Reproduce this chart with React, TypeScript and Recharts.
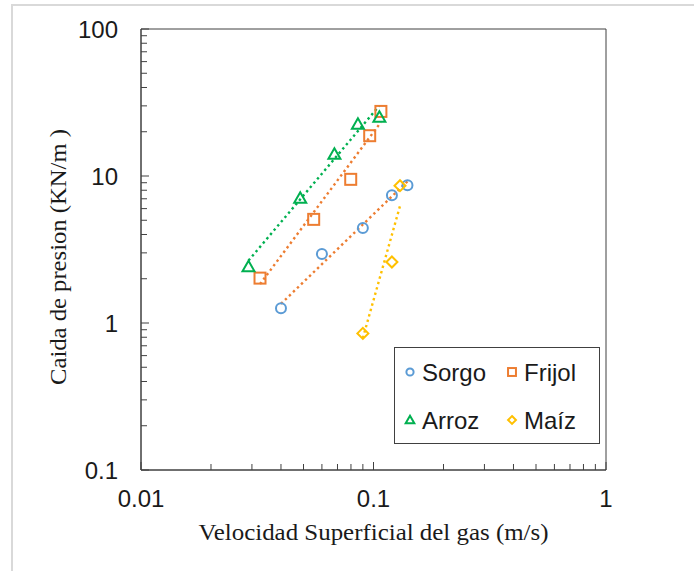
import React from 'react';
import { ScatterChart, Scatter, XAxis, YAxis, ReferenceArea, Legend, Label } from 'recharts';

const SANS = '"Liberation Sans", Arial, sans-serif';
const SERIF = '"Liberation Serif", "Times New Roman", serif';
const AXIS = '#404040';
const TEXT = '#1a1a1a';

const BLUE = '#5B9BD5';
const ORANGE = '#ED7D31';
const GREEN = '#00B050';
const GOLD = '#FFC000';

// measured points
const sorgoX = [0.04, 0.06, 0.09, 0.12, 0.14];
const sorgoY = [1.26, 2.95, 4.43, 7.39, 8.65];
const frijolX = [0.0325, 0.0553, 0.0798, 0.0963, 0.1076];
const frijolY = [2.02, 5.07, 9.49, 18.8, 27.5];
const arrozX = [0.029, 0.0484, 0.0679, 0.0857, 0.106];
const arrozY = [2.41, 7.05, 14.05, 22.5, 25.1];
const maizX = [0.09, 0.12, 0.13];
const maizY = [0.85, 2.6, 8.59];

// trendline end points
const sorgoTrendX = [0.04, 0.14];
const sorgoTrendY = [1.35, 9.2];
const frijolTrendX = [0.0325, 0.1076];
const frijolTrendY = [1.84, 23.2];
const arrozTrendX = [0.029, 0.106];
const arrozTrendY = [2.66, 30.1];
const maizTrendX = [0.09, 0.13];
const maizTrendY = [0.79, 6.25];

// axis ticks
const xTicks = [0.01, 0.02, 0.03, 0.04, 0.05, 0.06, 0.07, 0.08, 0.09, 0.1, 0.2, 0.3, 0.4, 0.5, 0.6, 0.7, 0.8, 0.9, 1];
const xMajor = [0.01, 0.1, 1];
const xLabels = ['0.01', '0.1', '1'];
const yTicks = [0.1, 0.2, 0.3, 0.4, 0.5, 0.6, 0.7, 0.8, 0.9, 1, 2, 3, 4, 5, 6, 7, 8, 9, 10, 20, 30, 40, 50, 60, 70, 80, 90, 100];
const yMajor = [0.1, 1, 10, 100];
const yLabels = ['0.1', '1', '10', '100'];

const toPoints = (xs: number[], ys: number[]) => xs.map((x, i) => ({ x, y: ys[i] }));

type Kind = 'circle' | 'square' | 'triangle' | 'diamond';

const legendItems: { name: string; color: string; kind: Kind }[] = [
  { name: 'Sorgo', color: BLUE, kind: 'circle' },
  { name: 'Frijol', color: ORANGE, kind: 'square' },
  { name: 'Arroz', color: GREEN, kind: 'triangle' },
  { name: 'Maíz', color: GOLD, kind: 'diamond' },
];

function Marker({ kind, cx, cy, color, s = 1 }: { kind: Kind; cx: number; cy: number; color: string; s?: number }) {
  const sw = 2;
  if (kind === 'circle') return <circle cx={cx} cy={cy} r={5 * s} fill="none" stroke={color} strokeWidth={sw} />;
  if (kind === 'square') {
    const h = 5.5 * s;
    return <rect x={cx - h} y={cy - h} width={2 * h} height={2 * h} fill="none" stroke={color} strokeWidth={sw} />;
  }
  if (kind === 'triangle') {
    const w = 6 * s;
    const t = 6 * s;
    const b = 4.5 * s;
    return <polygon points={`${cx},${cy - t} ${cx + w},${cy + b} ${cx - w},${cy + b}`} fill="none" stroke={color} strokeWidth={sw} />;
  }
  const d = 5.5 * s;
  return <polygon points={`${cx},${cy - d} ${cx + d},${cy} ${cx},${cy + d} ${cx - d},${cy}`} fill="none" stroke={color} strokeWidth={sw} />;
}

const XTick = (props: any) => {
  const { x, y, payload } = props;
  const i = xMajor.indexOf(payload.value);
  const len = i >= 0 ? 8 : 6;
  return (
    <g>
      <line x1={x} y1={y} x2={x} y2={y - len} stroke={AXIS} strokeWidth={1} />
      {i >= 0 && (
        <text x={x} y={y + 37} textAnchor="middle" fontSize={24} fontFamily={SANS} fill={TEXT}>
          {xLabels[i]}
        </text>
      )}
    </g>
  );
};

const YTick = (props: any) => {
  const { x, y, payload } = props;
  const i = yMajor.indexOf(payload.value);
  const len = i >= 0 ? 8 : 6;
  return (
    <g>
      <line x1={x} y1={y} x2={x + len} y2={y} stroke={AXIS} strokeWidth={1} />
      {i >= 0 && (
        <text x={x - 23} y={y + 8.5} textAnchor="end" fontSize={24} fontFamily={SANS} fill={TEXT}>
          {yLabels[i]}
        </text>
      )}
    </g>
  );
};

const LegendBox = () => (
  <svg width={206} height={97} style={{ display: 'block' }}>
    <rect x={0.5} y={0.5} width={205} height={96} fill="#fff" stroke={AXIS} strokeWidth={1} />
    {legendItems.map((it, i) => {
      const col = i % 2;
      const row = Math.floor(i / 2);
      const mx = col === 0 ? 16 : 118;
      const my = row === 0 ? 25 : 73;
      return (
        <g key={it.name}>
          <Marker kind={it.kind} cx={mx} cy={my} color={it.color} s={0.72} />
          <text x={mx + 12} y={my + 8.5} fontSize={24} fontFamily={SANS} fill={TEXT}>
            {it.name}
          </text>
        </g>
      );
    })}
  </svg>
);

const trendLine = (color: string) => ({
  stroke: color,
  strokeWidth: 2.4,
  strokeDasharray: '2.4 3.2',
});

const noShape = () => <g />;

export default function App() {
  return (
    <div style={{ position: 'absolute', left: 0, top: 0, width: 694, height: 571, overflow: 'hidden', background: '#fff' }}>
      <div
        style={{
          position: 'absolute',
          left: 11,
          top: 4,
          width: 720,
          height: 620,
          borderTop: '2px solid #d9d9d9',
          borderLeft: '2px solid #d9d9d9',
        }}
      />
      <div style={{ position: 'absolute', left: 0, top: 0 }}>
        <ScatterChart width={694} height={571} margin={{ top: 29, right: 88, bottom: 71, left: 81 }}>
          <XAxis
            type="number"
            dataKey="x"
            scale="log"
            domain={[0.01, 1]}
            ticks={xTicks}
            interval={0}
            allowDataOverflow
            height={30}
            tickSize={0}
            tickMargin={0}
            tickLine={false}
            tick={<XTick />}
            axisLine={{ stroke: AXIS, strokeWidth: 1 }}
          >
            <Label
              content={(p: any) => {
                const vb = p.viewBox || { x: 141, width: 465 };
                return (
                  <text
                    x={vb.x + vb.width / 2}
                    y={540}
                    textAnchor="middle"
                    fontSize={24}
                    fontFamily={SERIF}
                    fill={TEXT}
                    textLength={350}
                    lengthAdjust="spacingAndGlyphs"
                  >
                    Velocidad Superficial del gas (m/s)
                  </text>
                );
              }}
            />
          </XAxis>
          <YAxis
            type="number"
            dataKey="y"
            scale="log"
            domain={[0.1, 100]}
            ticks={yTicks}
            interval={0}
            allowDataOverflow
            width={60}
            tickSize={0}
            tickMargin={0}
            tickLine={false}
            tick={<YTick />}
            axisLine={{ stroke: AXIS, strokeWidth: 1 }}
          >
            <Label
              content={() => (
                <text
                  x={66}
                  y={257}
                  transform="rotate(-90, 66, 257)"
                  textAnchor="middle"
                  fontSize={24}
                  fontFamily={SERIF}
                  fill={TEXT}
                  textLength={256}
                  lengthAdjust="spacingAndGlyphs"
                >
                  Caida de presion (KN/m )
                </text>
              )}
            />
          </YAxis>
          <ReferenceArea x1={0.01} x2={1} y1={0.1} y2={100} fill="none" stroke={AXIS} strokeWidth={1} ifOverflow="visible" />

          <Scatter name="trend-sorgo" data={toPoints(sorgoTrendX, sorgoTrendY)} line={trendLine(ORANGE)} shape={noShape} legendType="none" isAnimationActive={false} />
          <Scatter name="trend-frijol" data={toPoints(frijolTrendX, frijolTrendY)} line={trendLine(ORANGE)} shape={noShape} legendType="none" isAnimationActive={false} />
          <Scatter name="trend-arroz" data={toPoints(arrozTrendX, arrozTrendY)} line={trendLine(GREEN)} shape={noShape} legendType="none" isAnimationActive={false} />
          <Scatter name="trend-maiz" data={toPoints(maizTrendX, maizTrendY)} line={trendLine(GOLD)} shape={noShape} legendType="none" isAnimationActive={false} />

          <Scatter name="Sorgo" data={toPoints(sorgoX, sorgoY)} shape={(p: any) => <Marker kind="circle" cx={p.cx} cy={p.cy} color={BLUE} />} isAnimationActive={false} />
          <Scatter name="Frijol" data={toPoints(frijolX, frijolY)} shape={(p: any) => <Marker kind="square" cx={p.cx} cy={p.cy} color={ORANGE} />} isAnimationActive={false} />
          <Scatter name="Arroz" data={toPoints(arrozX, arrozY)} shape={(p: any) => <Marker kind="triangle" cx={p.cx} cy={p.cy} color={GREEN} />} isAnimationActive={false} />
          <Scatter name="Maíz" data={toPoints(maizX, maizY)} shape={(p: any) => <Marker kind="diamond" cx={p.cx} cy={p.cy} color={GOLD} />} isAnimationActive={false} />

          <Legend
            layout="horizontal"
            verticalAlign="middle"
            align="center"
            content={() => <LegendBox />}
            wrapperStyle={{ left: 394, top: 347, width: 206, height: 97 }}
          />
        </ScatterChart>
      </div>
    </div>
  );
}
